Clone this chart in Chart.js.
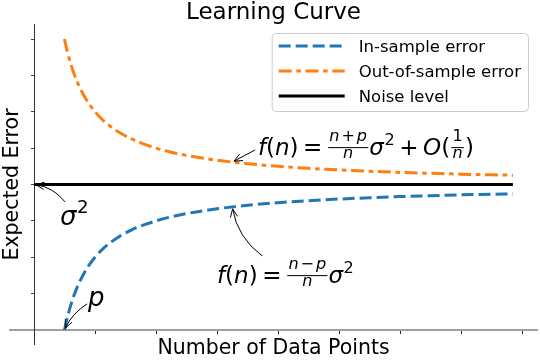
<!DOCTYPE html>
<html><head><meta charset="utf-8">
<script src="https://cdn.jsdelivr.net/npm/chart.js@4.4.0/dist/chart.umd.min.js"></script>
<style>html,body{margin:0;padding:0;background:#fff}#wrap{width:540px;height:360px}</style>
</head><body><div id="wrap"><canvas id="c" width="540" height="360"></canvas></div>
<script>
// ---- data ----
const dataPointsN    = [1, 1.05, 1.1, 1.2, 1.3, 1.4, 1.5, 1.65, 1.8, 2, 2.25, 2.5, 2.8, 3.2, 3.6, 4, 4.5, 5, 6, 7, 8, 9, 10, 11, 12, 13, 14, 15, 15.7];
const inSampleError  = [0, 0.048, 0.091, 0.167, 0.231, 0.286, 0.333, 0.394, 0.444, 0.5, 0.556, 0.6, 0.643, 0.688, 0.722, 0.75, 0.778, 0.8, 0.833, 0.857, 0.875, 0.889, 0.9, 0.909, 0.917, 0.923, 0.929, 0.933, 0.936];
const outSampleError = [2, 1.952, 1.909, 1.833, 1.769, 1.714, 1.667, 1.606, 1.556, 1.5, 1.444, 1.4, 1.357, 1.313, 1.278, 1.25, 1.222, 1.2, 1.167, 1.143, 1.125, 1.111, 1.1, 1.091, 1.083, 1.077, 1.071, 1.067, 1.064];
const noiseN         = [0, 15.7];
const noiseLevel     = [1, 1];
const xTickValues    = [0, 2, 4, 6, 8, 10, 12, 14, 16];
const yTickValues    = [0, 0.25, 0.5, 0.75, 1, 1.25, 1.5, 1.75, 2];
const seriesLabels   = ['In-sample error', 'Out-of-sample error', 'Noise level'];
const titleText = 'Learning Curve';
const xLabelText = 'Number of Data Points';
const yLabelText = 'Expected Error';

const toXY = (xs, ys) => xs.map((x, i) => ({x: x, y: ys[i]}));

// ---- math annotations (tokens) ----
const T = (s, it) => ({t: 'text', s: s, it: !!it});
const SP = (w) => ({t: 'sp', w: w});
const outFormula = [T('f', 1), T('('), T('n', 1), T(')'), SP(0.2), T('='), SP(0.2),
  {t: 'frac', num: [T('n', 1), SP(0.12), T('+'), SP(0.12), T('p', 1)], den: [T('n', 1)]},
  T('σ', 1), {t: 'sup', s: '2'}, SP(0.2), T('+'), SP(0.2), T('O', 1), T('('),
  {t: 'frac', num: [T('1')], den: [T('n', 1)]}, T(')')];
const inFormula = [T('f', 1), T('('), T('n', 1), T(')'), SP(0.2), T('='), SP(0.2),
  {t: 'frac', num: [T('n', 1), SP(0.12), T('−'), SP(0.12), T('p', 1)], den: [T('n', 1)]},
  T('σ', 1), {t: 'sup', s: '2'}];
const sigmaLabel = [T('σ', 1), {t: 'sup', s: '2'}];
const pLabel = [T('p', 1)];

const annotations = [
  {tokens: outFormula, text: [7.34, 1.203], size: 23, tail: [7.25, 1.2375], head: [6.5, 1.154], rad: 0},
  {tokens: inFormula,  text: [6.0, 0.323],  size: 23, tail: [7.48, 0.509],  head: [6.5, 0.846], rad: 0.2},
  {tokens: sigmaLabel, text: [0.852, 0.722], size: 26, tail: [1.02, 0.88],  head: [0, 1],      rad: -0.2},
  {tokens: pLabel,     text: [1.77, 0.165], size: 26, tail: [1.74, 0.179],  head: [1, 0],      rad: -0.15}
];

const FONT = '"DejaVu Sans", "Liberation Sans", sans-serif';

function layoutMath(ctx, toks, x, y, size, draw) {
  let cx = x;
  for (const tk of toks) {
    if (tk.t === 'text') {
      ctx.font = (tk.it ? 'italic ' : '') + size + 'px ' + FONT;
      if (draw) ctx.fillText(tk.s, cx, y);
      cx += ctx.measureText(tk.s).width;
    } else if (tk.t === 'sp') {
      cx += tk.w * size;
    } else if (tk.t === 'sup') {
      const s2 = size * 0.7;
      ctx.font = s2 + 'px ' + FONT;
      if (draw) ctx.fillText(tk.s, cx + size * 0.02, y - size * 0.45);
      cx += ctx.measureText(tk.s).width + size * 0.02;
    } else if (tk.t === 'frac') {
      const s2 = size * 0.7;
      const wn = layoutMath(ctx, tk.num, 0, 0, s2, false);
      const wd = layoutMath(ctx, tk.den, 0, 0, s2, false);
      const pad = size * 0.1;
      const w = Math.max(wn, wd) + 2 * pad;
      const barY = y - size * 0.32;
      if (draw) {
        layoutMath(ctx, tk.num, cx + (w - wn) / 2, barY - size * 0.3, s2, true);
        layoutMath(ctx, tk.den, cx + (w - wd) / 2, barY + size * 0.45, s2, true);
        ctx.fillRect(cx + pad * 0.5, barY - 0.5, w - pad, 1);
      }
      cx += w;
    }
  }
  return cx - x;
}

function drawArrow(ctx, x0, y0, x2, y2, rad) {
  let dx = x2 - x0, dy = y2 - y0;
  const cxp = (x0 + x2) / 2 + rad * dy;
  const cyp = (y0 + y2) / 2 - rad * dx;
  let tx = x2 - cxp, ty = y2 - cyp;
  let L = Math.hypot(tx, ty);
  const ex = x2 - tx / L * 2, ey = y2 - ty / L * 2;
  ctx.beginPath();
  ctx.moveTo(x0, y0);
  ctx.quadraticCurveTo(cxp, cyp, ex, ey);
  ctx.stroke();
  const ang = Math.atan2(ty, tx);
  const hl = 9, ha = 0.42;
  ctx.beginPath();
  ctx.moveTo(ex - hl * Math.cos(ang - ha), ey - hl * Math.sin(ang - ha));
  ctx.lineTo(ex, ey);
  ctx.lineTo(ex - hl * Math.cos(ang + ha), ey - hl * Math.sin(ang + ha));
  ctx.stroke();
}

const decorPlugin = {
  id: 'decor',
  afterDraw(chart) {
    const ctx = chart.ctx, ca = chart.chartArea;
    const xs = chart.scales.x, ys = chart.scales.y;
    ctx.save();
    ctx.fillStyle = '#000';
    ctx.textBaseline = 'alphabetic';
    // title
    ctx.textAlign = 'center';
    ctx.font = '23px ' + FONT;
    ctx.fillText(titleText, (ca.left + ca.right) / 2, 19);
    // x label
    ctx.font = '20.5px ' + FONT;
    ctx.fillText(xLabelText, (ca.left + ca.right) / 2, 354);
    // y label
    ctx.save();
    ctx.translate(18, (ca.top + ca.bottom) / 2);
    ctx.rotate(-Math.PI / 2);
    ctx.fillText(yLabelText, 0, 0);
    ctx.restore();
    ctx.textAlign = 'left';

    // annotations
    ctx.strokeStyle = '#000';
    ctx.lineWidth = 1;
    ctx.setLineDash([]);
    for (const a of annotations) {
      layoutMath(ctx, a.tokens, xs.getPixelForValue(a.text[0]), ys.getPixelForValue(a.text[1]), a.size, true);
      drawArrow(ctx, xs.getPixelForValue(a.tail[0]), ys.getPixelForValue(a.tail[1]),
        xs.getPixelForValue(a.head[0]), ys.getPixelForValue(a.head[1]), a.rad);
    }

    // legend
    const fs = 16.5;
    ctx.font = fs + 'px ' + FONT;
    const ds = chart.data.datasets;
    let maxW = 0;
    ds.forEach(d => { maxW = Math.max(maxW, ctx.measureText(d.label).width); });
    const handleLen = 66, pad = 7, gap = 14, rowH = 25;
    const bw = pad + handleLen + gap + maxW + pad;
    const bh = 78;
    const bx = ca.right - 9 - bw, by = ca.top + 8.5;
    ctx.beginPath();
    ctx.roundRect(bx + 0.5, by + 0.5, bw, bh, 4);
    ctx.fillStyle = 'rgba(255,255,255,0.8)';
    ctx.fill();
    ctx.strokeStyle = '#cccccc';
    ctx.lineWidth = 1;
    ctx.stroke();
    ds.forEach((d, i) => {
      const cy = by + 13 + i * rowH;
      ctx.beginPath();
      ctx.strokeStyle = d.borderColor;
      ctx.lineWidth = d.borderWidth;
      ctx.setLineDash(d.borderDash || []);
      ctx.lineCap = 'butt';
      ctx.moveTo(bx + pad, cy);
      ctx.lineTo(bx + pad + handleLen, cy);
      ctx.stroke();
      ctx.setLineDash([]);
      ctx.fillStyle = '#000';
      ctx.fillText(d.label, bx + pad + handleLen + gap, cy + 6);
    });
    ctx.restore();
  }
};

new Chart(document.getElementById('c'), {
  type: 'line',
  data: {
    datasets: [
      {label: seriesLabels[0], data: toXY(dataPointsN, inSampleError), borderColor: '#1f77b4', borderWidth: 3,
       borderDash: [12, 5], pointRadius: 0, fill: false, cubicInterpolationMode: 'monotone', borderCapStyle: 'butt'},
      {label: seriesLabels[1], data: toXY(dataPointsN, outSampleError), borderColor: '#ff7f0e', borderWidth: 3,
       borderDash: [13, 4.6, 4.6, 4.6], pointRadius: 0, fill: false, cubicInterpolationMode: 'monotone', borderCapStyle: 'butt'},
      {label: seriesLabels[2], data: toXY(noiseN, noiseLevel), borderColor: '#000000', borderWidth: 3,
       pointRadius: 0, fill: false, borderCapStyle: 'butt'}
    ]
  },
  options: {
    responsive: false,
    animation: false,
    devicePixelRatio: 1,
    layout: {padding: {left: 10, right: 3, top: 24.5, bottom: 15.5}},
    plugins: {legend: {display: false}, tooltip: {enabled: false}, title: {display: false}},
    scales: {
      x: {
        type: 'linear', min: -0.787, max: 16.49, position: {y: 0},
        afterBuildTicks: s => { s.ticks = xTickValues.map(v => ({value: v})); },
        ticks: {display: false},
        grid: {drawOnChartArea: false, drawTicks: true, tickLength: 3, tickColor: '#222', tickWidth: 1, lineWidth: 1},
        border: {display: true, color: '#a0a0a0', width: 2}
      },
      y: {
        type: 'linear', min: -0.1, max: 2.1, position: {x: 0},
        afterBuildTicks: s => { s.ticks = yTickValues.map(v => ({value: v})); },
        ticks: {display: false},
        grid: {drawOnChartArea: false, drawTicks: true, tickLength: 3, tickColor: '#444', tickWidth: 1, lineWidth: 1},
        border: {display: true, color: '#333', width: 1}
      }
    }
  },
  plugins: [decorPlugin]
});
</script>
</body></html>
